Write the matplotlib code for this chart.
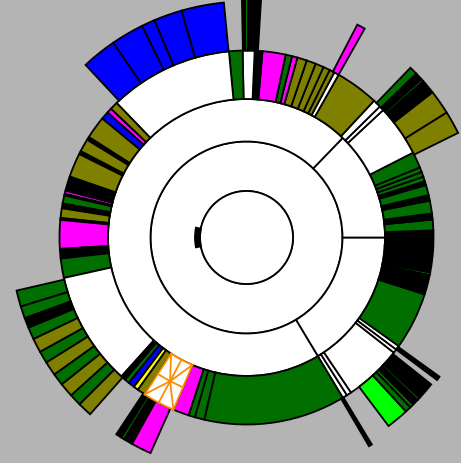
import matplotlib
matplotlib.use('Agg')
import numpy as np
from matplotlib import pyplot as plt
from matplotlib.patches import Wedge, Circle

# ring radii in pixels (centre, ring1, ring2, ring3, ring4)
radii = [46.5, 96, 138.5, 187, 236]

# ring 2 dividers (degrees, ccw from east)
ring2_edges = [-59, 0, 46, 301]

# ring 3: contiguous segments all the way round
ring3_edges = [-59, -57.5, -56, -38, -36.8, -35.5, -17.7, -11.5, -10.8, -3.6, -3.0,
               2.2, 5.5, 7.4, 11.4, 13.1, 16.3, 17.5, 19, 20.5, 22, 27, 43, 44.5, 47,
               60.5, 62, 63.6, 65.7, 68.3, 71.2, 74.2, 75.9, 77.9, 85.1, 87.5, 91.2,
               95.4, 134, 136.5, 138, 140.5, 147.5, 148.5, 152.5, 153.5, 161, 165.5,
               166.5, 167, 169.5, 171, 174, 174.6, 183.5, 186.5, 192.5, 228, 229.5,
               231, 233, 234.5, 237, 247, 252, 254, 257, 301]
ring3_colors = ['white', 'white', 'white', 'white', 'white', 'green', 'black', 'lime',
                'black', 'green', 'black', 'green', 'black', 'green', 'black', 'green',
                'black', 'green', 'green', 'green', 'green', 'white', 'white', 'white',
                'olive', 'white', 'olive', 'olive', 'olive', 'olive', 'olive', 'magenta',
                'green', 'magenta', 'black', 'white', 'green', 'white', 'olive', 'magenta',
                'blue', 'olive', 'black', 'olive', 'black', 'olive', 'black', 'magenta',
                'black', 'green', 'black', 'olive', 'black', 'magenta', 'black', 'green',
                'white', 'black', 'green', 'blue', 'yellow', 'olive', 'net', 'magenta',
                'green', 'green', 'green']

# ring 4: only some parents have children
ring4_start = [-53, -47.5, -46, -45, -43.5, -42.8,
               26.3, 32, 38, 41.5, 42.2, 44,
               95.5, 106, 113, 116.3, 124.4,
               193, 197, 200, 202.5, 205.5, 209, 212, 215.5, 218.5, 222, 225,
               236.5, 238, 238.8, 241]
ring4_end = [-47.5, -46, -45, -43.5, -42.8, -38.5,
             32, 38, 41.5, 42.2, 44, 46,
             106, 113, 116.3, 124.4, 133,
             197, 200, 202.5, 205.5, 209, 212, 215.5, 218.5, 222, 225, 228.5,
             238, 238.8, 241, 246]
ring4_colors = ['lime', 'green', 'green', 'black', 'green', 'black',
                'olive', 'olive', 'black', 'green', 'black', 'green',
                'blue', 'blue', 'blue', 'blue', 'blue',
                'green', 'green', 'black', 'green', 'olive', 'green', 'olive', 'green',
                'olive', 'green', 'olive',
                'black', 'green', 'black', 'magenta']

# deep thin branches sticking out past ring 4
spike_start = [-59.6, -36.8, 60.5, 86.5, 89.6, 90.4]
spike_end = [-58.8, -35.8, 62.5, 89.6, 90.4, 91.1]
spike_outer = [242, 238, 240, 260, 260, 260]
spike_colors = ['black', 'black', 'magenta', 'black', 'green', 'black']

palette = {'white': '#ffffff', 'black': '#000000', 'green': '#006f00',
           'lime': '#00ff00', 'olive': '#7f7f00', 'magenta': '#ff00ff',
           'blue': '#0000ff', 'yellow': '#ffff00'}
bg = '#b4b4b4'
orange = '#ff8c00'
lw = 1.3


def seg(ax, r_in, r_out, t1, t2, color, edge='black', z=2):
    ax.add_patch(Wedge((0, 0), r_out, t1, t2, width=r_out - r_in,
                       facecolor=color, edgecolor=edge, linewidth=lw, zorder=z))


def polar_line(ax, pts, color):
    t = np.radians([p[0] for p in pts])
    r = np.array([p[1] for p in pts])
    ax.plot(r * np.cos(t), r * np.sin(t), color=color, linewidth=lw, zorder=4)


fig = plt.figure(figsize=(4.61, 4.64), dpi=100)
fig.patch.set_facecolor(bg)
ax = fig.add_axes([0, 0, 1, 1])
ax.set_xlim(-246.5, 214.5)
ax.set_ylim(-225.5, 238.5)
ax.axis('off')

# centre and ring 1
ax.add_patch(Circle((0, 0), radii[0], facecolor='white', edgecolor='black', linewidth=lw, zorder=3))
seg(ax, radii[0], radii[1], 0, 360, 'white')
seg(ax, radii[0], radii[0] + 5, 169, 191, 'black', z=3)

# ring 2
for a, b in zip(ring2_edges[:-1], ring2_edges[1:]):
    seg(ax, radii[1], radii[2], a, b, 'white')

# ring 3
for a, b, c in zip(ring3_edges[:-1], ring3_edges[1:], ring3_colors):
    if c == 'net':
        # white file block drawn with an orange mesh
        seg(ax, radii[2], radii[3], a, b, 'white', edge=orange, z=3)
        rm = (radii[2] + radii[3]) / 2
        tm = (a + b) / 2
        polar_line(ax, [(a, radii[2]), (tm, rm), (b, radii[3])], orange)
        polar_line(ax, [(b, radii[2]), (tm, rm), (a, radii[3])], orange)
        polar_line(ax, [(tm, radii[2]), (tm, radii[3])], orange)
        polar_line(ax, [(a, rm), (tm, rm), (b, rm)], orange)
    else:
        seg(ax, radii[2], radii[3], a, b, palette[c])

# ring 4
for a, b, c in zip(ring4_start, ring4_end, ring4_colors):
    seg(ax, radii[3], radii[4], a, b, palette[c])

# spikes
for a, b, r, c in zip(spike_start, spike_end, spike_outer, spike_colors):
    seg(ax, radii[3], r, a, b, palette[c])

fig.savefig('out.png', dpi=100, facecolor=bg)
